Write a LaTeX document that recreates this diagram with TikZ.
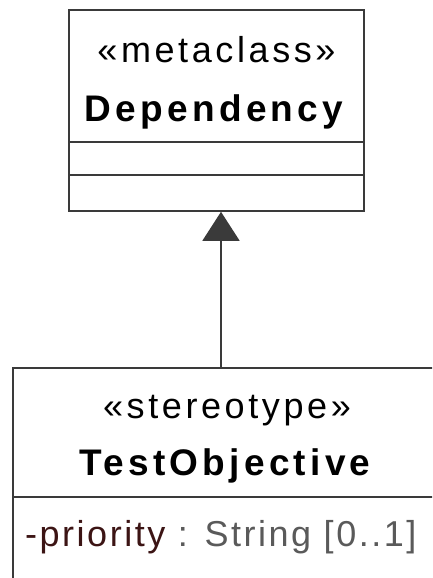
\documentclass[tikz,border=0pt]{standalone}
\usepackage{fontspec}
\setmainfont{Liberation Sans}
\newfontfamily\umlfont[LetterSpace=10]{Liberation Sans}
\newfontfamily\umlbold[LetterSpace=11.5]{Liberation Sans Bold}
\newfontfamily\umlattr[LetterSpace=7]{Liberation Sans}
\usetikzlibrary{arrows.meta}
\definecolor{umlline}{HTML}{3A3A3A}
\definecolor{attrname}{HTML}{3C1414}
\definecolor{attrtype}{HTML}{5A5A5A}
\tikzset{
  classbox/.style={draw=umlline, line width=1.6pt, fill=white, inner sep=0pt},
  umltext/.style={anchor=base, inner sep=0pt, font=\umlfont\fontsize{36}{42}\selectfont},
  umlname/.style={umltext, font=\umlbold\fontsize{37}{43}\selectfont},
  gen/.style={draw=umlline, line width=1.6pt,
    -{Triangle[width=37pt,length=29pt,fill=umlline]}}
}
\begin{document}
\begin{tikzpicture}[x=1pt,y=-1pt]
\useasboundingbox (0,0) rectangle (432,578);
\begin{scope}
\clip (0,0) rectangle (432,578);
% metaclass
\node[classbox, minimum width=295pt, minimum height=201pt] (dep) at (216.5,110.5){};
\draw[umlline, line width=1.6pt] (69,142) -- (364,142);
\draw[umlline, line width=1.6pt] (69,175) -- (364,175);
\node[umltext] (depst) at (216.5,63){«metaclass»};
\node[umlname] (depname) at (214,121){Dependency};
% stereotype
\node[classbox, minimum width=426pt, minimum height=240pt] (testobj) at (226,488){};
\draw[umlline, line width=1.6pt] (13,497) -- (439,497);
\node[umltext] (tost) at (227,418){«stereotype»};
\node[umlname] (toname) at (225,475){TestObjective};
\node[umltext, anchor=base west, font=\umlattr\fontsize{36}{42}\selectfont] (toattr) at (25,546){\textcolor{attrname}{-priority} \textcolor{attrtype}{: String [0..1]}};
\end{scope}
% generalization
\coordinate (genx) at (221,0);
\draw[gen] (testobj.north -| genx) -- (dep.south -| genx);
\end{tikzpicture}
\end{document}
